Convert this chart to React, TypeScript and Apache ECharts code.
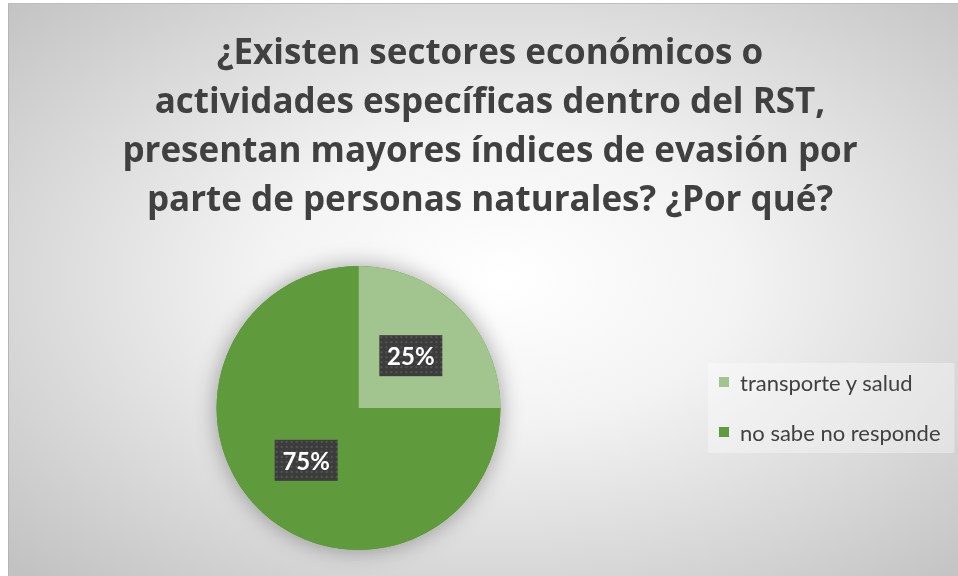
import React, { useEffect, useRef } from "react";
import * as echarts from "echarts";

const titleLines = [
  "¿Existen sectores económicos o",
  "actividades específicas dentro del RST,",
  "presentan mayores índices de evasión por",
  "parte de personas naturales? ¿Por qué?",
];
const categories = ["transporte y salud", "no sabe no responde"];
const values = [25, 75];
const sliceColors = ["#a2c58f", "#5f9a3c"];

function makePattern(w: number, h: number): string {
  const c = document.createElement("canvas");
  c.width = w;
  c.height = h;
  const ctx = c.getContext("2d");
  if (!ctx) return "";
  ctx.fillStyle = "#3c3c3c";
  ctx.fillRect(0, 0, w, h);
  ctx.fillStyle = "#545454";
  for (let y = 1; y < h; y += 5) {
    for (let x = 1; x < w; x += 5) {
      ctx.fillRect(x, y, 2, 2);
    }
  }
  return c.toDataURL();
}

export default function App() {
  const ref = useRef<HTMLDivElement>(null);
  useEffect(() => {
    if (!ref.current) return;
    const chart = echarts.init(ref.current, null, { renderer: "svg" });
    const pattern = makePattern(63, 41);
    chart.setOption({
      animation: false,
      backgroundColor: {
        type: "radial",
        x: 0.52,
        y: 0.48,
        r: 0.72,
        colorStops: [
          { offset: 0, color: "#ffffff" },
          { offset: 0.35, color: "#f3f3f3" },
          { offset: 1, color: "#c2c2c2" },
        ],
      },
      title: {
        text: titleLines.join("\n"),
        left: 476,
        top: 17,
        textAlign: "center",
        textStyle: {
          fontFamily: "'Open Sans', sans-serif",
          fontSize: 35,
          fontWeight: "bold",
          color: "#404040",
          lineHeight: 49,
        },
      },
      legend: {
        orient: "vertical",
        left: 699,
        top: 359,
        data: categories,
        icon: "rect",
        itemWidth: 10,
        itemHeight: 10,
        itemGap: 28,
        padding: [8, 14, 10, 11],
        backgroundColor: "rgba(255,255,255,0.35)",
        textStyle: {
          fontFamily: "Lato, sans-serif",
          fontSize: 22,
          color: "#404040",
          padding: [0, 0, 0, 6],
        },
      },
      series: [
        {
          type: "pie",
          silent: true,
          center: [349.5, 404],
          radius: 142,
          data: [{ value: 1, name: "" }],
          label: { show: false },
          labelLine: { show: false },
          itemStyle: {
            color: sliceColors[1],
            shadowBlur: 22,
            shadowColor: "rgba(0,0,0,0.35)",
          },
        },
        {
          type: "pie",
          center: [349.5, 404],
          radius: 142,
          startAngle: 90,
          clockwise: true,
          data: categories.map((name, i) => ({
            name,
            value: values[i],
            itemStyle: { color: sliceColors[i] },
          })),
          label: {
            show: true,
            position: "inside",
            formatter: "{d}%",
            fontFamily: "Lato, sans-serif",
            fontSize: 24,
            fontWeight: "bold",
            color: "#ffffff",
            width: 63,
            height: 41,
            lineHeight: 41,
            align: "center",
            verticalAlign: "middle",
            backgroundColor: pattern ? { image: pattern } : "#3c3c3c",
            shadowColor: "rgba(0,0,0,0.55)",
            shadowBlur: 6,
            shadowOffsetX: 3,
            shadowOffsetY: 3,
          },
          labelLine: { show: false },
          emphasis: { disabled: true },
        },
      ],
    });
    return () => chart.dispose();
  }, []);
  return (
    <div
      ref={ref}
      style={{
        position: "fixed",
        left: 8,
        top: 3,
        width: 950,
        height: 573,
        borderTop: "1px solid #bdbdbd",
        borderLeft: "1px solid #b5b5b5",
        boxSizing: "border-box",
      }}
    />
  );
}
